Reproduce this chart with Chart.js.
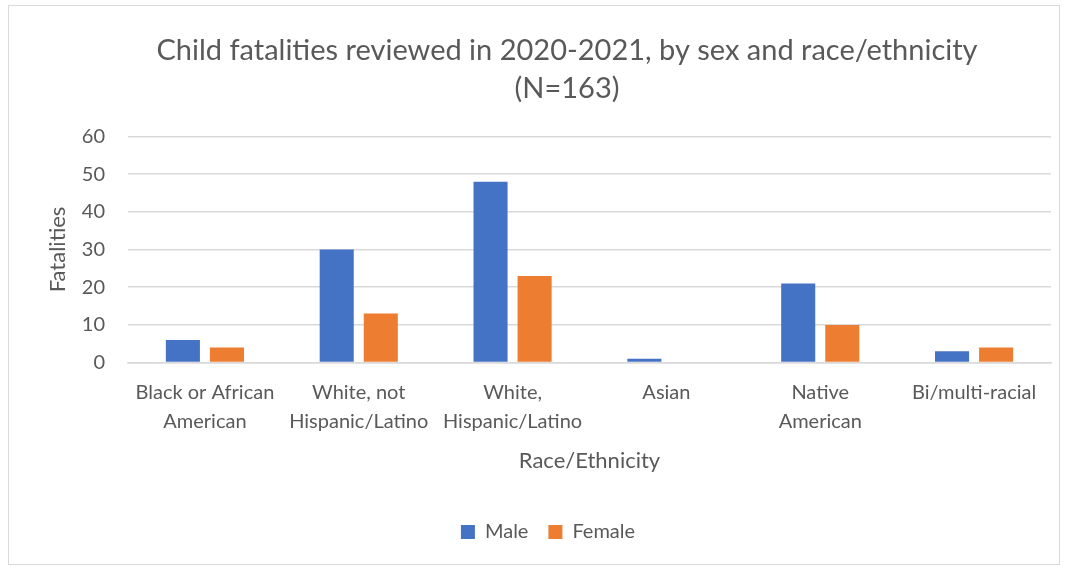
<!DOCTYPE html>
<html>
<head>
<meta charset="utf-8">
<script src="https://cdn.jsdelivr.net/npm/chart.js@4"></script>
<style>
    body { margin: 0; background: #fff; }
    #wrap {
        position: absolute; left: 8px; top: 5px;
        width: 1052px; height: 560px;
        border: 1px solid #d9d9d9; box-sizing: border-box;
    }
</style>
</head>
<body>
<div id="wrap"><canvas id="chart"></canvas></div>
<script>
// chart data
const categories = [
    ['Black or African', 'American'],
    ['White, not', 'Hispanic/Latino'],
    ['White,', 'Hispanic/Latino'],
    'Asian',
    ['Native', 'American'],
    'Bi/multi-racial'
];
const maleValues = [6, 30, 48, 1, 21, 3];
const femaleValues = [4, 13, 23, 0, 10, 4];
const yTicks = [0, 10, 20, 30, 40, 50, 60];

const FONT = 'Lato, "Liberation Sans", sans-serif';
const GREY = '#595959';

// nudge the title a little to the right, like the original
const titleShift = {
    id: 'titleShift',
    afterLayout(chart) {
        chart.titleBlock.left += 19;
        chart.titleBlock.right += 19;
    }
};

document.addEventListener('DOMContentLoaded', () => {
    const ctx = document.getElementById('chart').getContext('2d');
    new Chart(ctx, {
        type: 'bar',
        data: {
            labels: categories,
            datasets: [
                { label: 'Male', data: maleValues, backgroundColor: '#4472c4' },
                { label: 'Female', data: femaleValues, backgroundColor: '#ed7d31' }
            ]
        },
        plugins: [titleShift],
        options: {
            responsive: true,
            maintainAspectRatio: false,
            animation: false,
            datasets: {
                bar: { categoryPercentage: 0.573, barPercentage: 0.773 }
            },
            layout: { padding: { left: 36, right: 8, top: 26, bottom: 12 } },
            plugins: {
                title: {
                    display: true,
                    text: ['Child fatalities reviewed in 2020-2021, by sex and race/ethnicity', '(N=163)'],
                    color: GREY,
                    font: { family: FONT, size: 29, weight: 'normal', lineHeight: 1.3 },
                    padding: { top: 0, bottom: 29 }
                },
                legend: {
                    position: 'bottom',
                    labels: {
                        color: GREY,
                        font: { family: FONT, size: 20 },
                        boxWidth: 14,
                        boxHeight: 14,
                        padding: 20
                    }
                },
                tooltip: { enabled: false }
            },
            scales: {
                x: {
                    grid: { display: false },
                    border: { color: '#d9d9d9', width: 1.5 },
                    ticks: {
                        color: GREY,
                        font: { family: FONT, size: 20, lineHeight: 1.45 },
                        padding: 7,
                        maxRotation: 0,
                        autoSkip: false
                    },
                    afterFit: scale => { scale.paddingLeft = 0; scale.paddingRight = 0; },
                    title: {
                        display: true,
                        text: 'Race/Ethnicity',
                        color: GREY,
                        font: { family: FONT, size: 22 },
                        padding: { top: 5, bottom: 28 }
                    }
                },
                y: {
                    min: yTicks[0],
                    max: yTicks[yTicks.length - 1],
                    afterBuildTicks: axis => { axis.ticks = yTicks.map(v => ({ value: v })); },
                    afterFit: scale => { scale.width = 83; },
                    grid: { color: '#d9d9d9', lineWidth: 1.5, drawTicks: false },
                    border: { display: false },
                    ticks: {
                        color: GREY,
                        font: { family: FONT, size: 20 },
                        padding: 23
                    },
                    title: {
                        display: true,
                        text: 'Fatalities',
                        color: GREY,
                        font: { family: FONT, size: 22 },
                        padding: { top: 0, bottom: 16 }
                    }
                }
            }
        }
    });
});
</script>
</body>
</html>
